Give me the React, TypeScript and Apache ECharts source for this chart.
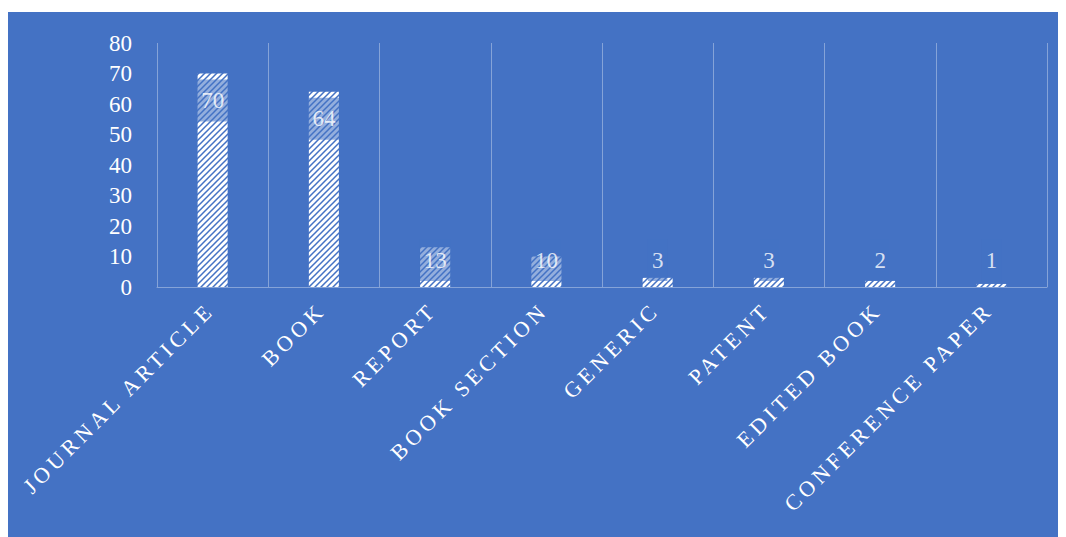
import React, { useEffect, useRef } from "react";
import * as echarts from "echarts";

const categories = [
  "JOURNAL ARTICLE",
  "BOOK",
  "REPORT",
  "BOOK SECTION",
  "GENERIC",
  "PATENT",
  "EDITED BOOK",
  "CONFERENCE PAPER",
];
const counts = [70, 64, 13, 10, 3, 3, 2, 1];
const yTicks = { min: 0, max: 80, interval: 10 };

const BG = "#4472C4";
const GRID = { left: 149, right: 19, top: 31, bottom: 250 };
const HEIGHT = 525;

function makeHatch(): string {
  const c = document.createElement("canvas");
  const s = 6;
  c.width = s;
  c.height = s;
  const ctx = c.getContext("2d")!;
  ctx.fillStyle = "#ffffff";
  ctx.fillRect(0, 0, s, s);
  ctx.strokeStyle = BG;
  ctx.lineWidth = 1.5;
  ctx.beginPath();
  ctx.moveTo(-1, s + 1);
  ctx.lineTo(s + 1, -1);
  ctx.moveTo(-1, 1);
  ctx.lineTo(1, -1);
  ctx.moveTo(s - 1, s + 1);
  ctx.lineTo(s + 1, s - 1);
  ctx.stroke();
  return c.toDataURL();
}

export default function App() {
  const ref = useRef<HTMLDivElement>(null);
  useEffect(() => {
    if (!ref.current) return;
    const chart = echarts.init(ref.current, undefined, { renderer: "svg" });
    const plotH = HEIGHT - GRID.top - GRID.bottom;
    const ppu = plotH / yTicks.max;
    const labelVals = counts.map((v) => Math.max(v - 27 / ppu, 27 / ppu));
    const font = "'Liberation Serif', 'DejaVu Serif', serif";
    chart.setOption({
      animation: false,
      backgroundColor: BG,
      grid: { ...GRID, containLabel: false },
      xAxis: {
        type: "category",
        data: categories,
        axisLine: { show: true, lineStyle: { color: "rgba(255,255,255,0.35)", width: 1 } },
        axisTick: { show: false },
        splitLine: { show: true, lineStyle: { color: "rgba(255,255,255,0.35)", width: 1 } },
        axisLabel: {
          rotate: 45,
          color: "#ffffff",
          fontFamily: font,
          fontSize: 22,
          margin: 17,
          padding: [0, 3, 0, 0],
          interval: 0,
        },
      },
      yAxis: {
        type: "value",
        min: yTicks.min,
        max: yTicks.max,
        interval: yTicks.interval,
        axisLine: { show: false },
        axisTick: { show: false },
        splitLine: { show: false },
        axisLabel: { color: "#ffffff", fontFamily: font, fontSize: 23, margin: 25 },
      },
      series: [
        {
          type: "bar",
          data: counts,
          barWidth: "27%",
          itemStyle: { color: { image: makeHatch(), repeat: "repeat" } },
        },
        {
          type: "scatter",
          data: labelVals,
          symbolSize: 0,
          z: 5,
          label: {
            show: true,
            position: "inside",
            formatter: (p: any) => String(counts[p.dataIndex]),
            color: "#ffffff",
            fontFamily: font,
            fontSize: 23,
            lineHeight: 24,
            backgroundColor: "rgba(68,114,196,0.72)",
            padding: [9, 4, 9, 4],
          },
        },
      ],
    });
    const applySpacing = () => {
      ref.current?.querySelectorAll("text").forEach((t) => {
        if (categories.includes((t.textContent || "").trim())) {
          (t as SVGTextElement).style.letterSpacing = "4.3px";
        }
      });
    };
    applySpacing();
    chart.on("finished", applySpacing);
    return () => chart.dispose();
  }, []);
  return (
    <>
      <style>{`html,body{overflow:hidden;}`}</style>
      <div ref={ref} style={{ width: 1058, height: HEIGHT, marginTop: 4 }} />
    </>
  );
}
